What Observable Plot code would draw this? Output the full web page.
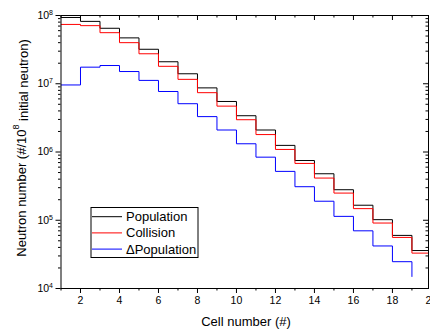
<!DOCTYPE html>
<html><head><meta charset="utf-8">
<script src="https://cdn.jsdelivr.net/npm/d3@7"></script>
<script src="https://cdn.jsdelivr.net/npm/@observablehq/plot@0.6"></script>
<style>
body{margin:0;background:#fff;}
#chart svg{font-family:"Liberation Sans",Arial,sans-serif;background:#fff;}
</style>
</head><body><div id="chart"></div>
<script>
const cells = [1,2,3,4,5,6,7,8,9,10,11,12,13,14,15,16,17,18,19];
const population = [9.35e7,8.2e7,6.5e7,4.7e7,3.2e7,2.1e7,1.4e7,8.7e6,5.5e6,3.4e6,2.1e6,1.25e6,7.5e5,4.8e5,2.8e5,1.66e5,1.02e5,6.0e4,3.6e4];
const collision = [7.4e7,7.1e7,5.6e7,4.0e7,2.75e7,1.8e7,1.16e7,7.4e6,4.7e6,2.97e6,1.8e6,1.09e6,6.8e5,4.15e5,2.5e5,1.48e5,9.1e4,5.6e4,3.3e4];
const deltaPopulation = [9.6e6,1.75e7,1.85e7,1.51e7,1.12e7,7.7e6,5.1e6,3.3e6,2.1e6,1.32e6,8.4e5,5.2e5,3.1e5,1.9e5,1.14e5,7.0e4,4.2e4,2.47e4,1.5e4];
const seriesNames = ["Population","Collision","\u0394Population"];
const seriesColors = ["#000000","#ff0000","#0000ff"];
const extendLast = [true,true,false];
const xTicksMajor = [2,4,6,8,10,12,14,16,18];
const xTicksMinor = [1,3,5,7,9,11,13,15,17,19];
const xTickOverflow = [20];
const yTicksMajor = [1e4,1e5,1e6,1e7,1e8];
const yTicksMinor = [2,3,4,5,6,7,8,9].flatMap(m => [1e4,1e5,1e6,1e7].map(d => m*d));

const W = 430, H = 329;
const mL = 60.5, mR = 2, mT = 15, mB = 41;
const plotW = W - mL - mR, plotH = H - mT - mB;

const allSeries = [population, collision, deltaPopulation];
const rows = [];
allSeries.forEach((vals, i) => {
  cells.forEach((c, j) => rows.push({cell: c, value: vals[j], series: seriesNames[i]}));
  if (extendLast[i]) rows.push({cell: cells[cells.length-1] + 1, value: vals[vals.length-1], series: seriesNames[i]});
});

const svg = Plot.plot({
  width: W, height: H,
  marginLeft: mL, marginRight: mR, marginTop: mT, marginBottom: mB,
  style: {fontFamily: "Liberation Sans, Arial, sans-serif", color: "black", background: "white"},
  x: {domain: [1, 19.85]},
  y: {type: "log", domain: [1e4, 1e8]},
  color: {domain: seriesNames, range: seriesColors},
  marks: [
    Plot.lineY(rows, {x: "cell", y: "value", z: "series", stroke: "series", curve: "step-after", strokeWidth: 1, clip: true}),
    Plot.frame({stroke: "black", strokeWidth: 1}),
    Plot.axisY(yTicksMajor, {tickSize: 5, tickPadding: 3, fontSize: 10.5, label: null, tickFormat: d => "10^" + Math.round(Math.log10(d))}),
    Plot.axisY(yTicksMinor, {tickSize: 2.5, label: null, tickFormat: () => ""}),
    Plot.axisX(xTicksMajor, {tickSize: 5, tickPadding: 3, fontSize: 10.5, label: null}),
    Plot.axisX(xTicksMinor, {tickSize: 2.5, label: null, tickFormat: () => ""}),
    Plot.text(xTickOverflow, {x: d => d, frameAnchor: "bottom", lineAnchor: "top", dy: 8, fontSize: 10.5, text: d => String(d), clip: false}),
    Plot.tickX(xTicksMajor, {x: d => d, insetBottom: plotH - 5, stroke: "black"}),
    Plot.tickX(xTicksMinor, {x: d => d, insetBottom: plotH - 2.5, stroke: "black"}),
    Plot.tickY(yTicksMajor, {y: d => d, insetLeft: plotW - 5, stroke: "black"}),
    Plot.tickY(yTicksMinor, {y: d => d, insetLeft: plotW - 2.5, stroke: "black"})
  ]
});

const s = d3.select(svg);
// superscript exponents on y tick labels
s.selectAll("text").each(function() {
  const t = d3.select(this);
  const txt = t.text();
  const m = /^10\^(\d+)$/.exec(txt);
  if (m) {
    t.text(null);
    t.append("tspan").text("10");
    t.append("tspan").attr("dy", "-0.55em").attr("font-size", "7px").text(m[1]);
  }
});

// axis titles
const yt = s.append("text")
  .attr("transform", `translate(20.5,148) rotate(-90)`)
  .attr("text-anchor", "middle").attr("dominant-baseline", "central")
  .attr("font-size", "13px").attr("fill", "black");
yt.append("tspan").text("Neutron number (#/10");
yt.append("tspan").attr("dy", "-0.5em").attr("font-size", "9px").text("8");
yt.append("tspan").attr("dy", "0.5em").text(" initial neutron)");

s.append("text").attr("x", 246).attr("y", 326).attr("text-anchor", "middle")
  .attr("font-size", "13px").attr("fill", "black").text("Cell number (#)");

// legend
const lg = s.append("g");
lg.append("rect").attr("x", 91).attr("y", 207.5).attr("width", 107).attr("height", 50)
  .attr("fill", "white").attr("stroke", "black").attr("stroke-width", 1);
seriesNames.forEach((name, i) => {
  const y = 216.7 + i * 16.2;
  lg.append("line").attr("x1", 92).attr("x2", 122).attr("y1", y).attr("y2", y)
    .attr("stroke", seriesColors[i]).attr("stroke-width", 1);
  lg.append("text").attr("x", 126).attr("y", y).attr("dominant-baseline", "central")
    .attr("text-anchor", "start")
    .attr("font-size", "13px").attr("fill", "black").text(name);
});

document.getElementById("chart").appendChild(svg);
</script>
</body></html>
